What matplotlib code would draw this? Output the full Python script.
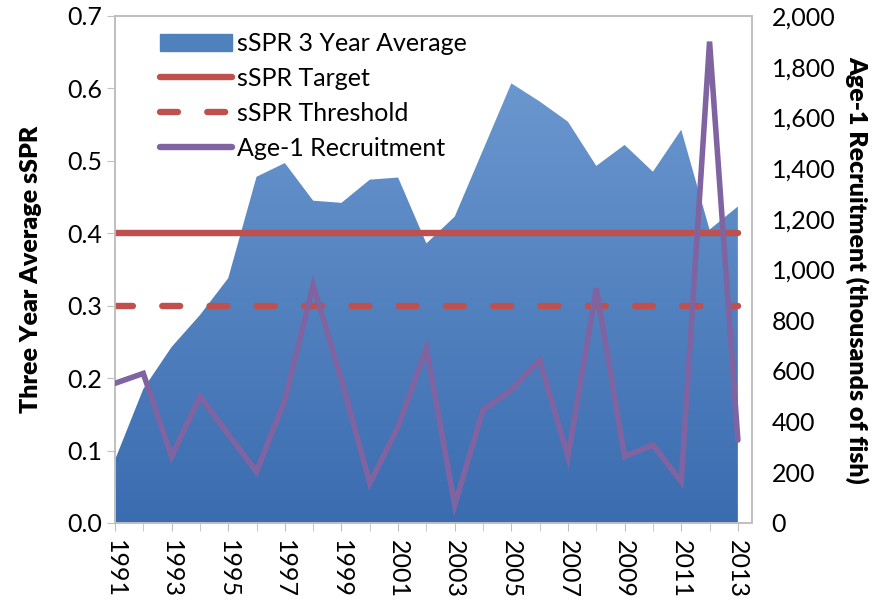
import numpy as np
import matplotlib
matplotlib.use('Agg')
import matplotlib.pyplot as plt
from matplotlib.patches import Polygon
from matplotlib.ticker import FuncFormatter, MultipleLocator

plt.rcParams['font.family'] = ['Lato', 'DejaVu Sans']

years = np.arange(1991, 2014)
sspr_avg = [0.087, 0.185, 0.243, 0.287, 0.338, 0.478, 0.497, 0.445, 0.442, 0.474,
            0.477, 0.386, 0.423, 0.515, 0.607, 0.582, 0.554, 0.493, 0.522, 0.485,
            0.543, 0.405, 0.437]
recruit = [551, 590, 262, 499, 350, 202, 485, 939, 564, 157, 380, 689, 71, 446,
           525, 643, 262, 926, 262, 308, 163, 1899, 327]
sspr_target = 0.4
sspr_threshold = 0.3

fig = plt.figure(figsize=(8.81, 6.01), dpi=100)
ax = fig.add_axes([0.1305, 0.1298, 0.7231, 0.8436])
ax2 = ax.twinx()

# gradient filled area for the 3 year average
ax.set_xlim(1991, 2013.5)
ax.set_ylim(0, 0.7)
grad = np.linspace(0, 1, 256).reshape(-1, 1)
cmap = matplotlib.colors.LinearSegmentedColormap.from_list('blu', ['#3a6cb0', '#6c98cf'])
img = ax.imshow(grad, cmap=cmap, origin='lower', aspect='auto',
                extent=[1991, 2013, 0, 0.62], zorder=1)
verts = [(1991, 0)] + list(zip(years, sspr_avg)) + [(2013, 0)]
poly = Polygon(verts, closed=True, facecolor='none', edgecolor='none')
ax.add_patch(poly)
img.set_clip_path(poly)
ax.fill_between([], [], color='#4f81bd', label='sSPR 3 Year Average')

red = '#c0504d'
purple = '#8064a2'
ax.plot([1991, 2013], [sspr_target] * 2, color=red, lw=4.6,
        solid_capstyle='round', label='sSPR Target', zorder=3)
ax.plot([1991, 2013], [sspr_threshold] * 2, color=red, lw=4.6,
        dashes=(2.8, 4.6), dash_capstyle='round', label='sSPR Threshold', zorder=3)
ax2.plot(years, recruit, color=purple, lw=4.0, solid_capstyle='round',
         solid_joinstyle='miter', zorder=4)
ax.plot([], [], color=purple, lw=4.6, solid_capstyle='round', label='Age-1 Recruitment')

ax2.set_ylim(0, 2000)
ax2.yaxis.set_major_locator(MultipleLocator(200))
ax2.yaxis.set_major_formatter(FuncFormatter(lambda v, p: '{:,.0f}'.format(v)))
ax2.tick_params(axis='y', length=0, labelsize=18, pad=14)

ax.yaxis.set_major_locator(MultipleLocator(0.1))
ax.yaxis.set_major_formatter(FuncFormatter(lambda v, p: '{:.1f}'.format(v)))
ax.set_xticks(years[::2])
ax.set_xticks(years, minor=True)
ax.set_xticklabels([str(y) for y in years[::2]], rotation=-90)
ax.tick_params(axis='y', labelsize=18, length=6, color='#bfbfbf', direction='out')
ax.tick_params(axis='x', which='both', labelsize=18, length=6, color='#bfbfbf',
               direction='out', pad=6)

for a in (ax, ax2):
    for s in a.spines.values():
        s.set_color('#bfbfbf')
        s.set_linewidth(1.2)

ax.set_ylabel('Three Year Average sSPR', fontsize=18, fontweight='heavy', labelpad=18)
ax2.set_ylabel('Age-1 Recruitment (thousands of fish)', fontsize=18,
               fontweight='heavy', rotation=-90, labelpad=24)

ax.legend(loc='upper left', bbox_to_anchor=(0.035, 1.012), frameon=False, fontsize=18,
          handlelength=2.9, handletextpad=0.2, labelspacing=0.47)
ax2.patch.set_visible(False)

fig.savefig('out.png', dpi=100)
